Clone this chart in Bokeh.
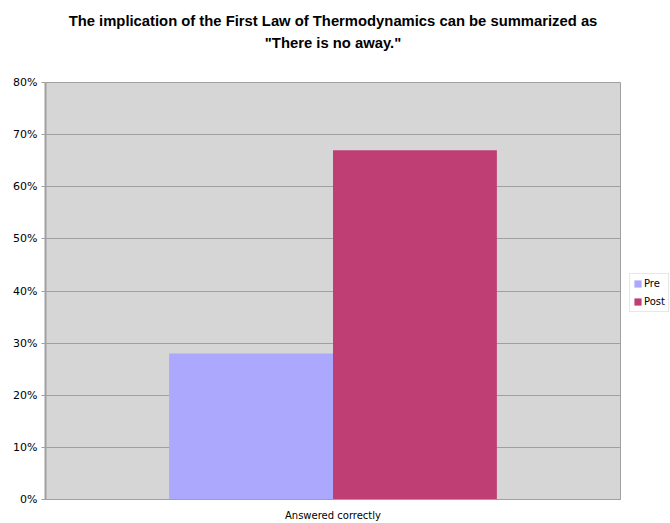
from bokeh.plotting import figure
from bokeh.models import (FactorRange, NumeralTickFormatter, Legend, LegendItem,
                          FixedTicker, Title)
from bokeh.layouts import row
from bokeh.transform import dodge
from bokeh.embed import file_html
from bokeh.resources import INLINE

categories = ["Answered correctly"]
series_names = ["Pre", "Post"]
pre_values = [0.28]
post_values = [0.67]
y_ticks = [0.0, 0.1, 0.2, 0.3, 0.4, 0.5, 0.6, 0.7, 0.8]
title_lines = ["The implication of the First Law of Thermodynamics can be summarized as",
               "\"There is no away.\""]

colors = ["#aba8fe", "#bf3e73"]

p = figure(width=621, height=523,
           x_range=FactorRange(*categories, range_padding=0),
           y_range=(0, 0.8), output_backend="svg", toolbar_location=None,
           min_border_left=45, min_border_right=1, min_border_top=82,
           min_border_bottom=21, background_fill_color="#d6d6d6",
           border_fill_color="white", outline_line_color="#a0a0a0")

src = dict(cat=categories, pre=pre_values, post=post_values)
r1 = p.vbar(x=dodge("cat", -0.1425, range=p.x_range), top="pre", width=0.285,
            source=src, fill_color=colors[0], line_color=None)
r2 = p.vbar(x=dodge("cat", 0.1425, range=p.x_range), top="post", width=0.285,
            source=src, fill_color=colors[1], line_color=None)

p.title = None
spacer = Title(text=" ", align="center", text_font="Liberation Sans",
               text_font_size="14.8px", standoff=14)
t2 = Title(text=title_lines[1], align="center", text_font="Liberation Sans",
           text_font_size="14.8px", text_font_style="bold", text_color="black",
           standoff=0)
t1 = Title(text=title_lines[0], align="center", text_font="Liberation Sans",
           text_font_size="14.8px", text_font_style="bold", text_color="black",
           standoff=8)
p.add_layout(spacer, "above")
p.add_layout(t2, "above")
p.add_layout(t1, "above")

p.yaxis.ticker = FixedTicker(ticks=y_ticks)
p.yaxis.formatter = NumeralTickFormatter(format="0%")
p.yaxis.axis_line_color = "#a0a0a0"
p.yaxis.axis_line_width = 2
p.yaxis.major_tick_line_color = "#a0a0a0"
p.yaxis.major_tick_out = 4
p.yaxis.major_tick_in = 0
p.yaxis.minor_tick_line_color = None
p.yaxis.major_label_text_font = "DejaVu Sans"
p.yaxis.major_label_text_font_size = "11px"
p.yaxis.major_label_text_color = "black"
p.yaxis.major_label_standoff = 4

p.xaxis.axis_line_color = "#a0a0a0"
p.xaxis.major_tick_line_color = None
p.xaxis.major_label_text_font = "DejaVu Sans"
p.xaxis.major_label_text_font_size = "10px"
p.xaxis.major_label_text_color = "black"
p.xaxis.major_label_standoff = 4

p.ygrid.grid_line_color = "#a0a0a0"
p.ygrid.grid_line_width = 1
p.xgrid.grid_line_color = None

# legend lives in a narrow companion figure to the right of the plot
lf = figure(width=49, height=523, x_range=FactorRange(*categories), y_range=(0, 1),
            x_axis_type=None, y_axis_type=None, output_backend="svg",
            toolbar_location=None, min_border=0, outline_line_color=None,
            background_fill_color="white", border_fill_color="white")
lf.grid.grid_line_color = None
k1 = lf.vbar(x="cat", top="pre", width=0.285, source=src,
             fill_color=colors[0], line_color=None, visible=False)
k2 = lf.vbar(x="cat", top="post", width=0.285, source=src,
             fill_color=colors[1], line_color=None, visible=False)

legend = Legend(items=[LegendItem(label=series_names[0], renderers=[k1]),
                       LegendItem(label=series_names[1], renderers=[k2])],
                location=(8, 187), orientation="vertical",
                border_line_color="#d0d0d0", background_fill_color="white",
                background_fill_alpha=1, label_text_font="DejaVu Sans",
                label_text_font_size="10px", label_text_color="black",
                glyph_width=9, glyph_height=9,
                padding=3, spacing=5, label_standoff=2, margin=0,
                label_height=13, inactive_fill_alpha=0,
                click_policy="none")
lf.add_layout(legend, "center")

layout = row(p, lf, spacing=0)
open("out.html", "w").write(file_html(layout, INLINE))
